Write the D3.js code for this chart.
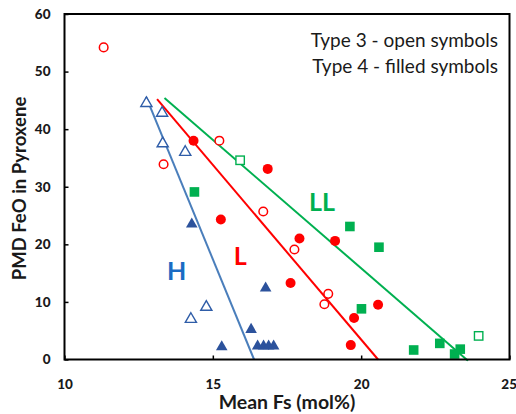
<!DOCTYPE html>
<html><head><meta charset="utf-8">
<script src="https://cdn.jsdelivr.net/npm/d3@7"></script>
<style>body{margin:0;background:#fff}svg{display:block}</style>
</head><body><div id="c"></div>
<script>
// ---- data ----
const xTicks = [10, 15, 20, 25];
const yTicks = [0, 10, 20, 30, 40, 50, 60];
// H group (triangles)
const hType3 = [[12.76,44.5],[13.29,42.8],[13.31,37.5],[14.07,36.0],[14.78,9.1],[14.26,7.0]];
const hType4 = [[14.29,23.5],[16.78,12.4],[16.29,5.2],[15.30,2.2],[16.51,2.3],[16.71,2.3],[16.88,2.3],[17.05,2.3]];
// L group (circles)
const lType3 = [[11.32,54.2],[13.34,33.9],[15.22,38.0],[16.70,25.7],[17.75,19.1],[18.89,11.4],[18.76,9.6]];
const lType4 = [[14.35,38.0],[16.85,33.1],[15.27,24.3],[17.92,21.0],[19.12,20.6],[17.62,13.3],[20.57,9.5],[19.76,7.2],[19.65,2.5]];
// LL group (squares)
const llType3 = [[15.92,34.6],[23.96,4.1]];
const llType4 = [[14.38,29.1],[19.62,23.1],[20.60,19.5],[20.01,8.8],[21.77,1.65],[22.65,2.8],[23.34,1.8],[23.15,0.95]];
// trend lines
const hLine = [[12.75,45.6],[16.39,0]];
const lLine = [[13.12,45.2],[20.57,0]];
const llLine = [[13.37,45.4],[23.6,-0.2]];
const groupLabels = [["H",13.78,15.3],["L",15.92,17.9],["LL",18.68,27.4]];
const legendLines = ["Type 3 - open symbols", "Type 4 - filled symbols"];

// ---- chart ----
const W = 516, H = 414;
const m = {l:64.5, r:509.5, t:14, b:359.5};
const svg = d3.select("#c").append("svg").attr("width",W).attr("height",H);
const x = d3.scaleLinear().domain([10,25]).range([m.l,m.r]);
const y = d3.scaleLinear().domain([0,60]).range([m.b,m.t]);
const font = "Lato, 'Open Sans', sans-serif";

const blueLine = "#4a7ebb", blueSym = "#2f5da8", blueFill = "#2c529c", blueText = "#1a6cc4";
const red = "#ff0000", green = "#00b050";

// clip
svg.append("clipPath").attr("id","cp").append("rect")
  .attr("x",m.l).attr("y",m.t).attr("width",m.r-m.l).attr("height",m.b-m.t+2);
const g = svg.append("g").attr("clip-path","url(#cp)");

const line = d3.line().x(d=>x(d[0])).y(d=>y(d[1]));
[[hLine,blueLine],[lLine,red],[llLine,green]].forEach(([d,c])=>{
  g.append("path").attr("d",line(d)).attr("fill","none").attr("stroke",c).attr("stroke-width",2);
});

const tri = d3.symbol().type(d3.symbolTriangle).size(58);
const triOpen = d3.symbol().type(d3.symbolTriangle).size(54);
svg.append("g").selectAll("path").data(hType3).join("path")
  .attr("d",triOpen).attr("transform",d=>`translate(${x(d[0])},${y(d[1])})`)
  .attr("fill","#fff").attr("stroke",blueSym).attr("stroke-width",1.4);
svg.append("g").selectAll("path").data(hType4).join("path")
  .attr("d",tri).attr("transform",d=>`translate(${x(d[0])},${y(d[1])})`)
  .attr("fill",blueFill);

svg.append("g").selectAll("circle").data(lType3).join("circle")
  .attr("cx",d=>x(d[0])).attr("cy",d=>y(d[1])).attr("r",4.3)
  .attr("fill","#fff").attr("stroke",red).attr("stroke-width",1.5);
svg.append("g").selectAll("circle").data(lType4).join("circle")
  .attr("cx",d=>x(d[0])).attr("cy",d=>y(d[1])).attr("r",5)
  .attr("fill",red);

svg.append("g").selectAll("rect").data(llType3).join("rect")
  .attr("x",d=>x(d[0])-4.2).attr("y",d=>y(d[1])-4.2).attr("width",8.4).attr("height",8.4)
  .attr("fill","#fff").attr("stroke",green).attr("stroke-width",1.4);
svg.append("g").selectAll("rect").data(llType4).join("rect")
  .attr("x",d=>x(d[0])-4.8).attr("y",d=>y(d[1])-4.8).attr("width",9.6).attr("height",9.6)
  .attr("fill",green);

// frame
svg.append("rect").attr("x",m.l).attr("y",m.t).attr("width",m.r-m.l).attr("height",m.b-m.t)
  .attr("fill","none").attr("stroke","#000").attr("stroke-width",2);

// axes
const xa = svg.append("g").attr("transform",`translate(0,${m.b})`)
  .call(d3.axisBottom(x).tickValues(xTicks).tickSizeInner(-4).tickSizeOuter(0).tickPadding(20).tickFormat(d3.format("d")));
const ya = svg.append("g").attr("transform",`translate(${m.l},0)`)
  .call(d3.axisLeft(y).tickValues(yTicks).tickSizeInner(-4).tickSizeOuter(0).tickPadding(14).tickFormat(d3.format("d")));
[xa,ya].forEach(a=>{
  a.select(".domain").remove();
  a.selectAll(".tick line").attr("stroke","#000").attr("stroke-width",1.5);
  a.selectAll(".tick text").attr("font-family",font).attr("font-weight","900").attr("font-size",13.5).attr("fill","#1a1a1a");
});
xa.selectAll(".tick text").filter(d=>d===25).attr("text-anchor","end").attr("dx",7);

// titles
svg.append("text").attr("x",(m.l+m.r)/2).attr("y",409).attr("text-anchor","middle")
  .attr("font-family",font).attr("font-weight","bold").attr("font-size",19.5).attr("fill","#1a1a1a")
  .text("Mean Fs (mol%)");
svg.append("text").attr("transform","translate(25.5,188.5) rotate(-90)").attr("text-anchor","middle")
  .attr("font-family",font).attr("font-weight","bold").attr("font-size",18.5).attr("fill","#1a1a1a")
  .text("PMD FeO in Pyroxene");

// group labels
const lc = {H:blueText, L:red, LL:green};
svg.append("g").selectAll("text").data(groupLabels).join("text")
  .attr("x",d=>x(d[1])).attr("y",d=>y(d[2])).attr("text-anchor","middle").attr("dy","0.36em")
  .attr("font-family",font).attr("font-weight","bold").attr("font-size",25)
  .attr("fill",d=>lc[d[0]]).text(d=>d[0]);

// legend text
svg.append("g").selectAll("text").data(legendLines).join("text")
  .attr("x",498).attr("y",(d,i)=>47+i*26).attr("text-anchor","end")
  .attr("font-family",font).attr("font-size",19).attr("fill","#1a1a1a").text(d=>d);
</script></body></html>
